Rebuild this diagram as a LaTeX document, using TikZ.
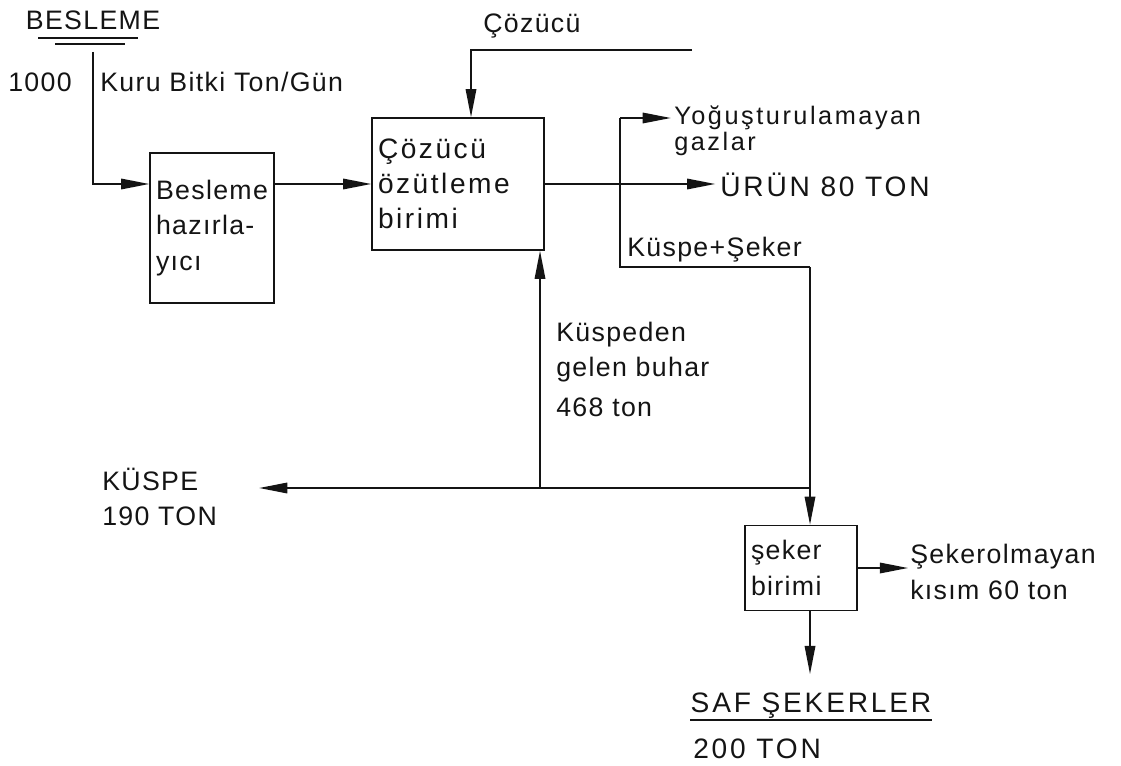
\documentclass[tikz,border=0pt]{standalone}
\usepackage{fontspec}
\setmainfont[LetterSpace=5]{Liberation Sans}
\usepackage{tikz}
\usetikzlibrary{arrows.meta,positioning}
\definecolor{ink}{HTML}{141414}
\tikzset{
  unitbox/.style={rectangle, draw=ink, line width=1.1pt, align=left, inner xsep=1.5mm, inner ysep=0pt,
                  text=ink, font=\fontsize{19}{25}\selectfont},
  widebox/.style={unitbox, font=\fontsize{20}{25}\selectfont\addfontfeature{LetterSpace=9}},
  lbl/.style={inner sep=0pt, align=left, text=ink, font=\fontsize{19}{25}\selectfont},
  smalllbl/.style={lbl, font=\fontsize{18}{18}\selectfont\addfontfeature{LetterSpace=10}},
  capslbl/.style={lbl, font=\fontsize{20}{26}\selectfont\addfontfeature{LetterSpace=10}},
  flow/.style={-{Triangle[length=20pt,width=7.5pt]}, draw=ink, line width=1.1pt},
  pipe/.style={draw=ink, line width=1.1pt}
}

\begin{document}
\begin{tikzpicture}[x=0.25mm, y=-0.25mm]
  \useasboundingbox (0,0) rectangle (1121,766);

  % process units
  \node[unitbox, text width=28mm, minimum height=37.5mm] (prep) at (212,228) {Besleme\\hazırla-\\yıcı};
  \node[widebox, text width=40mm, minimum height=33mm] (extract) at (458,184) {Çözücü\\özütleme\\birimi};
  \node[unitbox, text width=25mm, minimum height=21.25mm] (sugar) at (801,568) {şeker\\birimi};

  % stream labels
  \node[lbl, anchor=base] (feed) at (93,30) {BESLEME};
  \node[lbl, anchor=base east] (rate) at (72,92) {1000};
  \node[lbl, anchor=base west] (feedname) at (100,92) {Kuru Bitki Ton/Gün};
  \node[lbl, anchor=base west] (solvent) at (483,33) {Çözücü};
  \node[smalllbl, anchor=north west] (gases) at (674,106) {Yoğuşturulamayan\\gazlar};
  \node[capslbl, anchor=base west] (product) at (720,197) {ÜRÜN 80 TON};
  \node[lbl, anchor=base west] (mix) at (627,256) {Küspe+Şeker};
  \node[lbl, anchor=north west] (steam) at (556,322) {Küspeden\\gelen buhar\\[3pt]468 ton};
  \node[lbl, anchor=north west] (bagasse) at (102,468) {KÜSPE\\190 TON};
  \node[lbl, anchor=west] (nonsugar) at (910,572) {Şekerolmayan\\kısım 60 ton};
  \node[capslbl, anchor=base] (pure) at (811,712) {SAF ŞEKERLER};
  \node[capslbl, anchor=base west] (puremass) at (693,758) {200 TON};

  % underlines
  \draw[pipe] (38,38) -- (138,38);
  \draw[pipe] (55,44) -- (125,44);
  \draw[pipe] ([yshift=-2mm]pure.base west) -- ([yshift=-2mm]pure.base east);

  % junctions
  \coordinate (feedtop) at (93,52);
  \coordinate (solventend) at (692,50);
  \coordinate (solventbend) at (471,50);
  \coordinate (gasbend) at (620,118);
  \coordinate (mixbend) at (620,267);
  \coordinate (sugarbend) at (810,267);
  \coordinate (split) at (810,488);
  \coordinate (steamfoot) at (540,488);

  % streams
  \draw[flow] (feedtop) |- (prep.west |- extract.west);
  \draw[flow] (prep.east |- extract.west) -- (extract.west);
  \draw[flow] (solventend) -- (solventbend) -- (solventbend |- extract.north);
  \draw[flow, shorten >=1.2mm] (extract.east) -- (product.west |- extract.east);
  \draw[pipe] (gasbend) -- (mixbend) -- (sugarbend);
  \draw[flow, shorten >=0.8mm] (gasbend) -- (gases.west |- gasbend);
  \draw[flow] (sugarbend) -- (sugarbend |- sugar.north);
  \draw[flow, shorten >=10.5mm] (split) -- (bagasse.east |- split);
  \draw[flow] (steamfoot) -- (steamfoot |- extract.south);
  \draw[flow, shorten >=0.5mm] (sugar.east) -- (nonsugar.west |- sugar.east);
  \draw[flow, shorten >=4.5mm] (sugar.south -| sugarbend) -- (pure.north -| sugarbend);
\end{tikzpicture}
\end{document}
